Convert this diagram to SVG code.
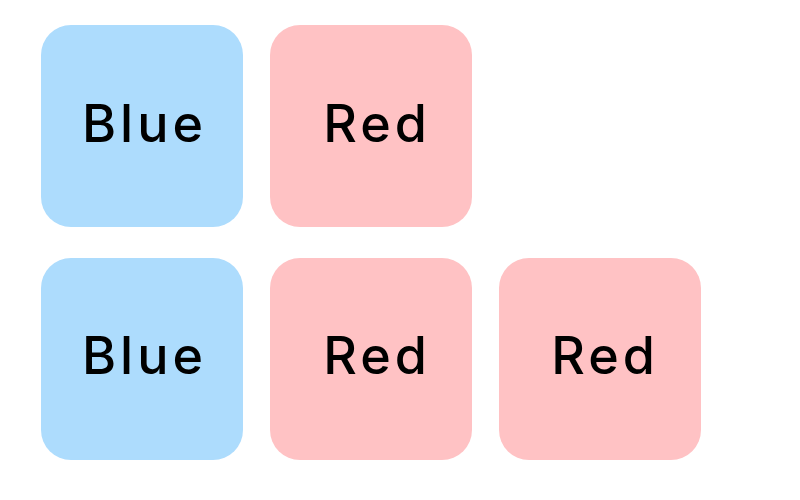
<svg xmlns="http://www.w3.org/2000/svg" width="800" height="500" viewBox="0 0 800 500">
<style>
.blue{fill:#ADDCFD}
.red{fill:#FFC2C4}
.lbl{font-family:Inter,"Liberation Sans",Arial,sans-serif;font-size:52px;font-weight:500;fill:#000;text-anchor:middle;letter-spacing:4px}
</style>
<rect width="800" height="500" fill="#fff"/>
<g id="blue1"><rect class="blue" x="41" y="25" width="202" height="202" rx="30"/><text class="lbl" x="144.5" y="142">Blue</text></g>
<g id="red1"><rect class="red" x="270" y="25" width="202" height="202" rx="30"/><text class="lbl" x="377" y="142">Red</text></g>
<g id="blue2"><rect class="blue" x="41" y="258" width="202" height="202" rx="30"/><text class="lbl" x="144.5" y="374">Blue</text></g>
<g id="red2"><rect class="red" x="270" y="258" width="202" height="202" rx="30"/><text class="lbl" x="377" y="374">Red</text></g>
<g id="red3"><rect class="red" x="499" y="258" width="202" height="202" rx="30"/><text class="lbl" x="605" y="374">Red</text></g>
<g id="connectors"/>
</svg>
